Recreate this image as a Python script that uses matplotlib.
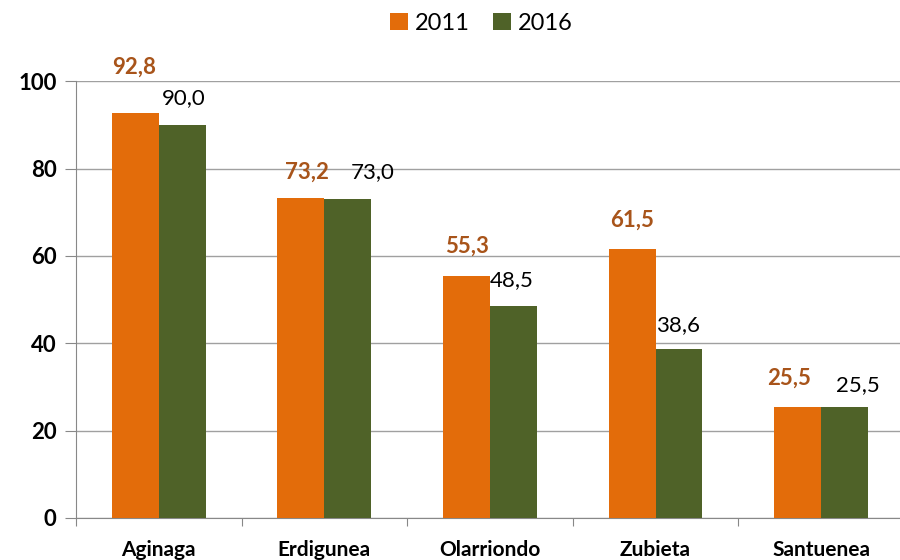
import numpy as np
import matplotlib.pyplot as plt

plt.rcParams['font.family'] = ['Lato', 'DejaVu Sans']

# Data
categories = ["Aginaga", "Erdigunea", "Olarriondo", "Zubieta", "Santuenea"]
vals_2011 = [92.8, 73.2, 55.3, 61.5, 25.5]
vals_2016 = [90.0, 73.0, 48.5, 38.6, 25.5]
years = ["2011", "2016"]

# label nudges (pixels: dx, dy above bar top), as placed in the original
nudge_2011 = [(-1, 45), (6, 26), (0, 30), (0, 29), (-9, 28)]
nudge_2016 = [(2, 27), (25, 27), (-2, 26), (-1, 24), (13, 22)]

c_2011 = "#E36C0A"
c_2016 = "#4F6228"
c_lab11 = "#A8541A"

fig = plt.figure(figsize=(9, 5.6), dpi=100)
ax = fig.add_axes([0.0844, 0.075, 0.92, 0.78])

x = np.arange(len(categories))
w = 0.283
b1 = ax.bar(x - w / 2, vals_2011, w, color=c_2011, label=years[0], zorder=3)
b2 = ax.bar(x + w / 2, vals_2016, w, color=c_2016, label=years[1], zorder=3)

px = 72 / fig.dpi
fmt = lambda v: f"{v:.1f}".replace(".", ",")
for i, v in enumerate(vals_2011):
    dx, dy = nudge_2011[i]
    ax.annotate(fmt(v), (x[i] - w / 2, v), xytext=(dx * px, dy * px), textcoords="offset points",
                ha="center", va="center", fontsize=16, fontweight="bold", color=c_lab11)
for i, v in enumerate(vals_2016):
    dx, dy = nudge_2016[i]
    ax.annotate(fmt(v), (x[i] + w / 2, v), xytext=(dx * px, dy * px), textcoords="offset points",
                ha="center", va="center", fontsize=16, color="black")

ax.set_ylim(0, 100)
ax.set_xlim(-0.5, len(categories) - 0.5)
ax.set_yticks(np.arange(0, 101, 20))
ax.yaxis.grid(True, color="#A0A0A0", lw=1, zorder=0)
ax.set_xticks(np.arange(-0.5, len(categories), 1))
ax.set_xticklabels([])
ax.set_xticks(x, minor=True)
ax.set_xticklabels(categories, minor=True, fontsize=15, fontweight="bold")
ax.tick_params(axis="x", which="minor", length=0, pad=16)
ax.tick_params(axis="x", which="major", length=6, color="#888888")
ax.tick_params(axis="y", length=8, color="#888888", labelsize=16, pad=6)
for t in ax.get_yticklabels():
    t.set_fontweight("bold")
for s in ["top", "right"]:
    ax.spines[s].set_visible(False)
for s in ["left", "bottom"]:
    ax.spines[s].set_color("#888888")

fig.legend(handles=[b1, b2], labels=years, loc="upper center", ncol=2, frameon=False,
           fontsize=17, bbox_to_anchor=(0.535, 1.015), handlelength=0.75, handleheight=0.75,
           handletextpad=0.3, columnspacing=1.0)

fig.savefig("out.png", dpi=100)
